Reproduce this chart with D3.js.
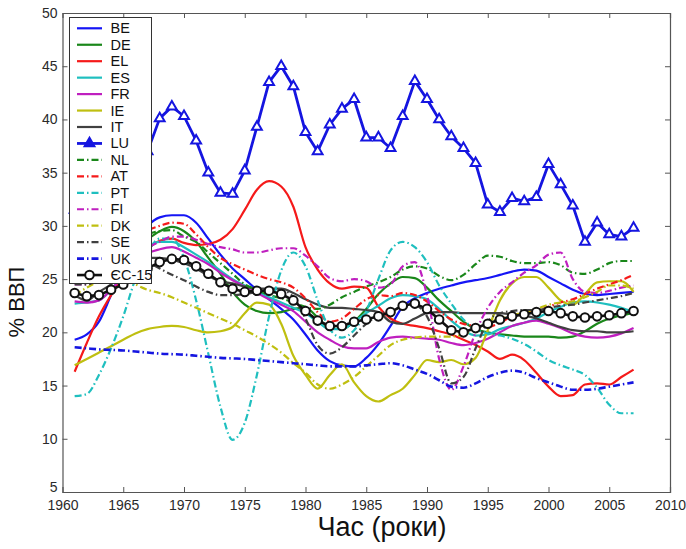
<!DOCTYPE html>
<html>
<head>
<meta charset="utf-8">
<script src="https://cdn.jsdelivr.net/npm/d3@7"></script>
<style>
  html, body { margin: 0; padding: 0; background: #fff; }
  svg { display: block; font-family: Arial, "Liberation Sans", Helvetica, sans-serif; }
</style>
</head>
<body>
<svg id="chart" width="686" height="549"></svg>
<script>
// ---------- data ----------
const years = [1961,1962,1963,1964,1965,1966,1967,1968,1969,1970,
  1971,1972,1973,1974,1975,1976,1977,1978,1979,1980,
  1981,1982,1983,1984,1985,1986,1987,1988,1989,1990,
  1991,1992,1993,1994,1995,1996,1997,1998,1999,2000,
  2001,2002,2003,2004,2005,2006,2007];

const seriesNames = ["BE","DE","EL","ES","FR","IE","IT","LU","NL","AT","PT","FI","DK","SE","UK","ЄС-15"];

const BE = [19.3,19.8,21.0,23.5,26.0,28.5,30.0,30.8,31.0,31.0,30.3,28.8,27.3,26.0,25.0,24.0,23.1,22.2,21.2,19.8,18.3,17.3,16.9,16.8,17.6,18.9,20.6,22.4,23.2,23.7,24.1,24.4,24.7,24.9,25.1,25.4,25.7,25.9,25.8,25.2,24.6,24.0,23.6,23.5,23.6,23.7,23.8];
const DE = [25.5,26.0,26.2,27.0,28.0,28.5,28.8,29.5,29.9,29.5,28.5,27.0,25.5,23.8,22.6,22.0,21.8,21.9,22.2,22.3,21.4,20.4,20.3,21.0,22.2,23.6,24.6,25.2,25.1,24.2,23.0,22.0,21.0,20.3,20.0,19.8,19.7,19.6,19.6,19.6,19.5,19.6,20.1,20.8,21.3,21.6,21.8];
const EL = [16.3,19.0,21.5,23.5,25.2,26.7,27.8,28.6,28.8,28.4,28.2,28.3,28.7,29.7,31.5,33.4,34.2,33.7,31.8,28.0,25.9,24.6,24.1,24.3,24.2,22.4,21.3,20.8,20.6,20.4,20.1,19.8,19.3,18.8,18.2,17.5,17.9,17.4,16.2,14.9,14.0,14.1,15.1,15.2,15.1,15.8,16.5];
const ES = [22.7,22.8,23.0,24.0,25.5,27.0,28.0,28.5,28.5,28.0,27.3,26.6,25.8,25.0,24.4,23.8,23.3,22.8,22.3,21.8,21.0,20.3,20.3,21.0,21.8,22.5,23.2,23.5,23.4,23.1,22.2,21.1,20.2,19.7,19.8,20.3,20.6,20.9,21.3,21.9,22.4,22.8,22.9,22.8,22.6,22.3,21.9];
const FR = [22.9,22.8,23.0,24.0,25.3,26.5,27.4,27.8,28.0,27.6,27.0,26.4,25.6,24.9,24.3,23.7,23.1,22.6,22.0,21.0,20.0,19.3,18.7,18.5,18.5,19.1,19.5,19.6,19.5,19.4,19.3,19.0,18.8,19.0,19.4,20.0,20.6,20.9,21.1,20.8,20.4,19.9,19.6,19.5,19.6,19.9,20.4];
const IE = [16.9,17.5,18.1,18.7,19.3,19.9,20.3,20.5,20.6,20.5,20.2,20.0,20.1,20.5,21.8,22.8,22.6,20.8,17.8,16.0,14.7,16.0,17.0,15.3,14.0,13.5,14.1,14.7,16.0,17.4,17.2,17.4,17.0,17.6,20.2,23.0,24.6,25.2,25.2,24.2,23.0,22.6,23.6,24.7,24.8,24.8,23.8];
const IT = [23.5,23.0,23.8,24.5,25.5,26.3,27.0,27.0,26.8,26.5,26.0,25.3,24.8,24.6,24.3,24.1,24.1,24.1,23.7,23.1,22.6,22.3,22.3,22.2,22.1,21.9,21.0,20.8,21.3,21.8,21.9,21.9,21.8,21.8,21.8,21.8,21.7,21.6,21.3,20.9,20.5,20.2,20.1,20.1,20.0,20.0,20.1];
const LU = [31.5,31.8,32.3,33.0,34.0,35.5,37.0,40.1,41.2,40.3,38.0,35.0,33.1,33.0,35.2,39.3,43.5,45.0,43.1,38.8,37.0,39.5,41.0,41.9,38.3,38.3,37.3,40.3,43.6,41.9,40.0,38.4,37.3,35.9,32.0,31.3,32.6,32.3,32.7,35.8,33.9,31.9,28.5,30.3,29.2,29.0,29.8];
const NL = [25.5,25.5,26.0,26.5,27.5,28.5,29.2,29.5,29.6,29.0,28.5,27.5,26.5,25.5,24.5,24.0,23.5,23.2,22.8,22.4,22.2,22.6,23.3,23.8,24.3,24.7,25.2,25.9,26.2,26.0,25.3,24.9,25.4,26.4,27.2,27.1,26.7,26.5,26.5,26.6,26.3,25.6,25.5,25.9,26.5,26.7,26.7];
const AT = [25.5,26.0,26.5,27.2,28.0,29.0,29.6,30.0,30.3,30.2,29.2,28.0,27.0,26.4,25.9,25.4,25.0,24.7,24.2,23.2,21.9,21.0,21.3,22.2,23.1,23.5,23.4,23.7,23.5,22.9,22.0,21.2,20.8,20.6,20.5,20.9,21.5,21.8,22.0,22.4,22.8,23.1,23.6,24.1,24.5,24.9,25.4];
const PT = [14.0,14.2,16.0,18.5,21.5,25.0,27.5,28.8,28.8,27.0,23.0,18.0,13.0,9.9,11.5,16.0,21.5,25.8,27.5,26.2,23.0,20.3,19.5,20.2,22.0,25.0,27.7,28.5,28.0,26.6,24.4,22.7,21.2,20.3,19.9,19.7,19.4,18.9,18.2,17.4,16.9,16.5,16.0,14.8,13.2,12.4,12.4];
const FI = [24.5,24.5,25.0,25.5,26.5,27.5,28.0,28.5,29.0,29.0,28.7,28.3,28.0,27.8,27.5,27.5,27.7,27.9,27.9,27.2,26.2,25.1,24.8,25.0,24.8,24.2,24.5,26.2,26.6,23.5,17.5,14.6,16.8,20.0,22.3,23.8,24.7,25.6,26.3,27.3,27.5,25.0,23.8,23.7,23.9,24.2,24.4];
const DK = [23.5,24.2,24.8,25.3,25.0,24.5,24.0,23.7,23.3,22.8,22.3,21.8,21.3,20.8,20.2,19.6,18.9,18.1,17.1,16.2,15.1,14.7,15.1,15.8,16.8,17.8,18.8,19.3,19.5,19.6,19.6,19.6,19.8,20.3,20.9,21.3,21.6,21.9,22.2,22.6,22.8,22.9,23.3,23.8,24.4,24.4,24.1];
const SE = [24.5,24.5,25.0,25.5,26.3,26.8,26.6,26.0,25.4,24.9,24.3,23.8,23.5,23.5,23.6,23.8,24.0,24.0,23.3,21.3,18.8,18.0,18.6,19.7,20.8,21.6,22.1,22.4,22.5,21.5,18.5,15.2,15.8,18.5,21.0,21.8,22.0,22.1,22.1,22.3,22.5,22.6,22.8,23.0,23.2,23.4,23.7];
const UK = [18.6,18.5,18.4,18.35,18.3,18.2,18.1,18.0,17.95,17.9,17.8,17.7,17.6,17.55,17.5,17.4,17.3,17.2,17.1,17.0,16.9,16.8,16.8,16.8,16.9,17.0,17.1,16.9,16.5,16.1,15.5,14.9,14.8,15.2,15.8,16.2,16.4,16.2,15.7,15.3,14.9,14.6,14.6,14.7,14.9,15.1,15.3];
const EU15 = [23.7,23.4,23.5,24.0,24.5,25.3,26.0,26.6,26.9,26.8,26.2,25.5,24.7,24.1,23.8,23.9,23.9,23.6,23.0,22.0,21.1,20.6,20.6,21.0,21.2,21.5,21.9,22.5,22.7,22.2,21.2,20.2,20.0,20.4,20.8,21.2,21.5,21.7,21.9,22.0,21.8,21.5,21.4,21.5,21.6,21.8,22.0];

const xTickValues = [1960,1965,1970,1975,1980,1985,1990,1995,2000,2005,2010];
const yTickValues = [5,10,15,20,25,30,35,40,45,50];
const xTitle = "Час (роки)";
const yTitle = "% ВВП";

// ---------- styles ----------
const seriesValues = [BE,DE,EL,ES,FR,IE,IT,LU,NL,AT,PT,FI,DK,SE,UK,EU15];
const seriesColors = ["#1515f5","#1a871a","#f51a1a","#1fbfbf","#bf1fbf","#bfbf10","#404040","#1515e0",
                      "#1a871a","#f51a1a","#1fbfbf","#bf1fbf","#bfbf10","#404040","#1515e0","#111111"];
const dashDot = "7,3,1.5,3";
const seriesDash = [null,null,null,null,null,null,null,null,dashDot,dashDot,dashDot,dashDot,dashDot,dashDot,dashDot,null];
const seriesWidth = [2.2,2.2,2.2,2.2,2.2,2.2,2.2,2.8,2.2,2.2,2.2,2.2,2.2,2.2,2.6,2.6];
const seriesMarker = [null,null,null,null,null,null,null,"tri",null,null,null,null,null,null,null,"circ"];

// ---------- chart ----------
const svg = d3.select("#chart");
svg.append("rect").attr("width",686).attr("height",549).attr("fill","#fff");

const X0 = 62.5, X1 = 670, Y0 = 492, Y1 = 13;
const x = d3.scaleLinear().domain([1960,2010]).range([X0,X1]);
const y = d3.scaleLinear().domain([5,50]).range([Y0,Y1]);

const axisColor = "#555";
const textColor = "#2a2a2a";

const plot = svg.append("g");

svg.append("defs").append("clipPath").attr("id","clip")
  .append("rect").attr("x",X0).attr("y",Y1).attr("width",X1-X0).attr("height",Y0-Y1);

const linesG = plot.append("g").attr("clip-path","url(#clip)");

seriesNames.forEach((name,i) => {
  const vals = seriesValues[i];
  const pts = years.map((yr,j) => [yr, vals[j]]);
  const curve = seriesMarker[i] ? d3.curveLinear : d3.curveMonotoneX;
  const line = d3.line().x(d => x(d[0])).y(d => y(d[1])).curve(curve);
  const p = linesG.append("path").datum(pts)
    .attr("d", line)
    .attr("fill","none")
    .attr("stroke", seriesColors[i])
    .attr("stroke-width", seriesWidth[i])
    .attr("stroke-linejoin","round");
  if (seriesDash[i]) p.attr("stroke-dasharray", seriesDash[i]);
  if (seriesMarker[i] === "tri") {
    linesG.selectAll(null).data(pts).enter().append("path")
      .attr("d", d3.symbol().type(d3.symbolTriangle).size(42))
      .attr("transform", d => `translate(${x(d[0])},${y(d[1])})`)
      .attr("fill","#fff").attr("stroke",seriesColors[i]).attr("stroke-width",2);
  } else if (seriesMarker[i] === "circ") {
    linesG.selectAll(null).data(pts).enter().append("circle")
      .attr("cx", d => x(d[0])).attr("cy", d => y(d[1])).attr("r",4.3)
      .attr("fill","#fff").attr("stroke",seriesColors[i]).attr("stroke-width",2);
  }
});

// axes (MATLAB-style box, inward ticks)
const tick = 5;
const gB = svg.append("g").attr("transform",`translate(0,${Y0})`)
  .call(d3.axisBottom(x).tickValues(xTickValues).tickSize(-tick).tickPadding(8).tickFormat(d3.format("d")));
const gT = svg.append("g").attr("transform",`translate(0,${Y1})`)
  .call(d3.axisTop(x).tickValues(xTickValues).tickSize(-tick).tickFormat(""));
const gL = svg.append("g").attr("transform",`translate(${X0},0)`)
  .call(d3.axisLeft(y).tickValues(yTickValues).tickSize(-tick).tickPadding(5).tickFormat(d3.format("d")));
const gR = svg.append("g").attr("transform",`translate(${X1},0)`)
  .call(d3.axisRight(y).tickValues(yTickValues).tickSize(-tick).tickFormat(""));
[gB,gT,gL,gR].forEach(g => {
  g.select(".domain").attr("stroke",axisColor).attr("stroke-width",1.2);
  g.selectAll(".tick line").attr("stroke",axisColor).attr("stroke-width",1);
  g.selectAll(".tick text").attr("fill",textColor).style("font-size","14px")
    .style("font-family","Arial, 'Liberation Sans', sans-serif");
});
// the lowest y label sits a little higher, like the reference
gL.selectAll(".tick text").filter(d => d===5).attr("dy","-0.05em");
gB.selectAll(".tick line").filter(d => d===1960 || d===2010).remove();
gT.selectAll(".tick line").filter(d => d===1960 || d===2010).remove();
gL.selectAll(".tick line").filter(d => d===5 || d===50).remove();
gR.selectAll(".tick line").filter(d => d===5 || d===50).remove();

// axis titles
svg.append("text").attr("x",382).attr("y",536).attr("text-anchor","middle")
  .attr("fill","#111").style("font-size","27px").text(xTitle);
svg.append("text").attr("transform","translate(24,302) rotate(-90)").attr("text-anchor","middle")
  .attr("fill","#111").style("font-size","22px").text(yTitle);

// legend
const LX = 69.5, LY = 17.5, LW = 82, LH = 266;
const leg = svg.append("g");
leg.append("rect").attr("x",LX).attr("y",LY).attr("width",LW).attr("height",LH)
  .attr("fill","#fff").attr("stroke","#333").attr("stroke-width",1);
const rowH = 16.45, row0 = 28.3;
seriesNames.forEach((name,i) => {
  const cy = row0 + i*rowH;
  const l = leg.append("line").attr("x1",77).attr("x2",102).attr("y1",cy).attr("y2",cy)
    .attr("stroke",seriesColors[i]).attr("stroke-width",seriesWidth[i]);
  if (seriesDash[i]) l.attr("stroke-dasharray",dashDot);
  if (seriesMarker[i] === "tri") {
    leg.append("path").attr("d", d3.symbol().type(d3.symbolTriangle).size(42))
      .attr("transform",`translate(89.5,${cy})`).attr("fill",seriesColors[i])
      .attr("stroke",seriesColors[i]).attr("stroke-width",2);
  } else if (seriesMarker[i] === "circ") {
    leg.append("circle").attr("cx",89.5).attr("cy",cy).attr("r",4.3)
      .attr("fill","#fff").attr("stroke",seriesColors[i]).attr("stroke-width",2);
  }
  leg.append("text").attr("x",110.5).attr("y",cy+5).attr("fill","#111")
    .style("font-size","14.5px").text(name);
});
</script>
</body>
</html>
